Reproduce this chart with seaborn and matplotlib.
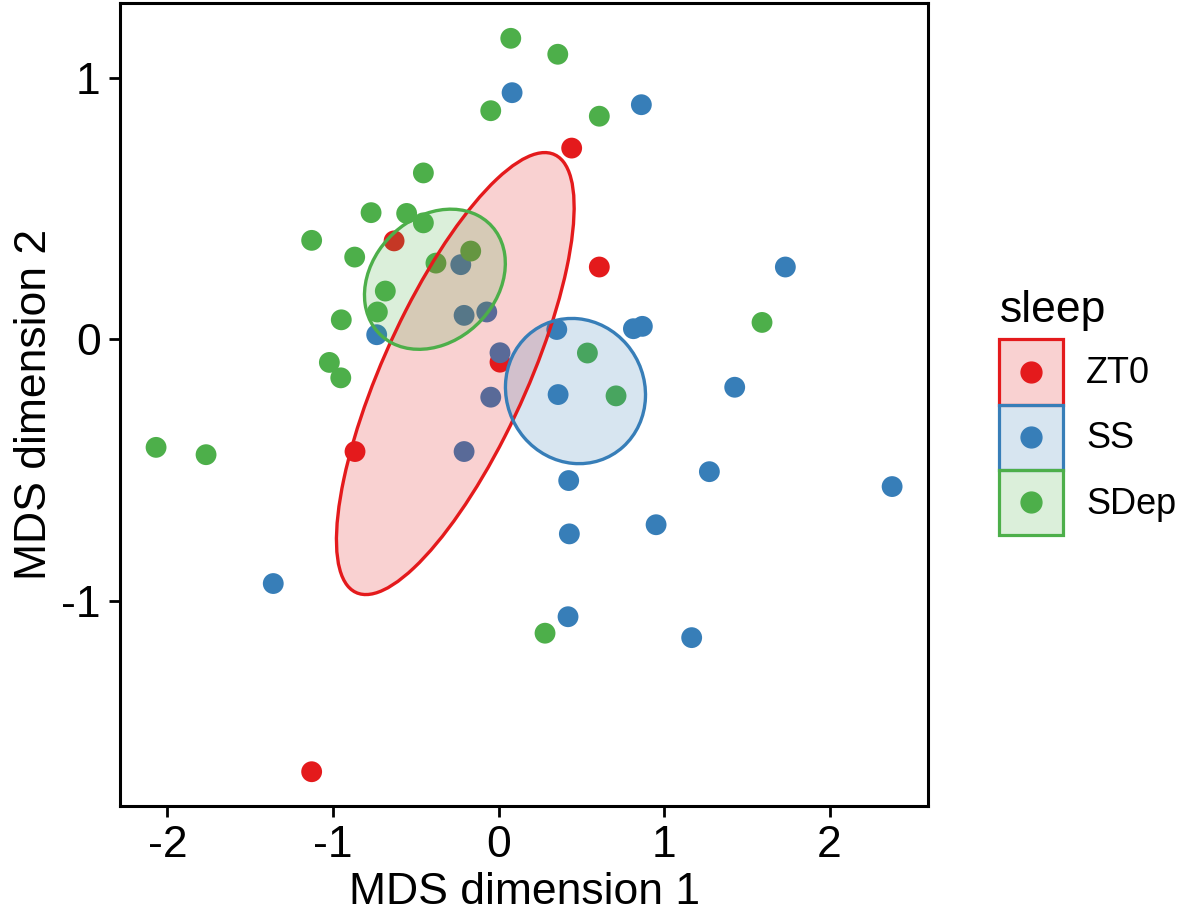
import numpy as np
import pandas as pd
import matplotlib
matplotlib.use("Agg")
import matplotlib.pyplot as plt
import seaborn as sns
from matplotlib.patches import Ellipse, Patch, Rectangle
from matplotlib.lines import Line2D
from matplotlib.legend_handler import HandlerBase

# MDS coordinates
zt0_x = [-0.631, 0.442, 0.609, -0.867, -1.129, 0.009]
zt0_y = [0.377, 0.732, 0.277, -0.429, -1.654, -0.087]

ss_x = [0.082, 0.863, 1.733, 0.815, 0.869, 0.352, -0.228, -0.208, -0.071, -0.736,
        0.009, -0.047, -0.208, 0.360, 1.427, 0.424, 1.274, 2.378, 0.428, 0.952,
        0.420, 1.167, -1.361]
ss_y = [0.944, 0.898, 0.277, 0.041, 0.050, 0.038, 0.286, 0.092, 0.105, 0.018,
        -0.051, -0.221, -0.429, -0.211, -0.183, -0.540, -0.506, -0.563, -0.744, -0.709,
        -1.061, -1.141, -0.934]

sdep_x = [0.074, 0.358, -0.047, 0.609, -0.454, -0.770, -0.555, -0.454, -1.129, -0.869,
          -0.378, -0.168, -0.684, -0.732, -0.950, -1.022, -0.953, -2.069, -1.767, 1.592,
          0.537, 0.710, 0.281]
sdep_y = [1.152, 1.091, 0.875, 0.854, 0.637, 0.485, 0.482, 0.446, 0.379, 0.315,
          0.292, 0.338, 0.185, 0.105, 0.075, -0.088, -0.147, -0.413, -0.441, 0.065,
          -0.052, -0.216, -1.124]

groups = ["ZT0", "SS", "SDep"]
colors = ["#E41A1C", "#377EB8", "#4DAF4A"]

df = pd.DataFrame({
    "x": zt0_x + ss_x + sdep_x,
    "y": zt0_y + ss_y + sdep_y,
    "sleep": ["ZT0"] * len(zt0_x) + ["SS"] * len(ss_x) + ["SDep"] * len(sdep_x),
})


class KeyHandler(HandlerBase):
    # ggplot-like legend key: filled box with coloured border and a centred dot
    def create_artists(self, legend, orig_handle, xdescent, ydescent,
                       width, height, fontsize, trans):
        c = orig_handle.get_edgecolor()
        box = Rectangle((-xdescent, -ydescent), width, height,
                        facecolor=orig_handle.get_facecolor(), edgecolor=c,
                        linewidth=2.3, transform=trans)
        dot = Line2D([-xdescent + width / 2], [-ydescent + height / 2],
                     marker="o", linestyle="", color=c, markersize=15,
                     transform=trans)
        return [box, dot]


sns.set_style("white")
plt.rcParams["font.family"] = ["Liberation Sans", "DejaVu Sans"]
plt.rcParams["text.color"] = "black"
plt.rcParams["axes.labelcolor"] = "black"

fig = plt.figure(figsize=(11.81, 9.19), dpi=100)
ax = fig.add_axes([0.1016, 0.123, 0.6842, 0.8737])

sns.scatterplot(
    data=df, x="x", y="y", hue="sleep", hue_order=groups,
    palette=colors, s=225, linewidth=0, alpha=1, legend=False, ax=ax, zorder=2
)

# 95% confidence ellipse of the group mean
r = np.sqrt(-2 * np.log(0.05))
for g, c in zip(groups, colors):
    sub = df[df["sleep"] == g]
    cov = np.cov(sub["x"], sub["y"]) / len(sub)
    vals, vecs = np.linalg.eigh(cov)
    order = vals.argsort()[::-1]
    vals, vecs = vals[order], vecs[:, order]
    angle = np.degrees(np.arctan2(vecs[1, 0], vecs[0, 0]))
    w, h = 2 * r * np.sqrt(vals)
    ctr = (sub["x"].mean(), sub["y"].mean())
    ax.add_patch(Ellipse(ctr, w, h, angle=angle, facecolor=c, alpha=0.2,
                         edgecolor="none", zorder=3))
    ax.add_patch(Ellipse(ctr, w, h, angle=angle, facecolor="none",
                         edgecolor=c, linewidth=2.4, zorder=4))

ax.set_xlim(-2.287, 2.595)
ax.set_ylim(-1.785, 1.287)
ax.set_xticks([-2, -1, 0, 1, 2])
ax.set_yticks([-1, 0, 1])
ax.set_xticklabels(["-2", "-1", "0", "1", "2"])
ax.set_yticklabels(["-1", "0", "1"])
ax.tick_params(axis="both", which="major", labelsize=32, length=8, width=2,
               direction="out", color="black", labelcolor="black", pad=6,
               bottom=True, left=True)
for sp in ax.spines.values():
    sp.set_linewidth(2.2)
    sp.set_color("black")
ax.set_xlabel("MDS dimension 1", fontsize=32, labelpad=4, color="black")
ax.set_ylabel("MDS dimension 2", fontsize=32, labelpad=4, color="black")

handles = [Patch(facecolor=matplotlib.colors.to_rgba(c, 0.2), edgecolor=c)
           for c in colors]
leg = fig.legend(
    handles, groups, title="sleep", loc="upper left",
    bbox_to_anchor=(0.834, 0.700), frameon=False,
    handler_map={Patch: KeyHandler()},
    fontsize=26, title_fontsize=32, handlelength=1.75, handleheight=2.4,
    labelspacing=0.0, handletextpad=0.65, alignment="left", borderaxespad=0,
)
leg._legend_box.sep = 6
for t in leg.get_texts():
    t.set_color("black")
leg.get_title().set_color("black")

fig.savefig("out.png", dpi=100)
